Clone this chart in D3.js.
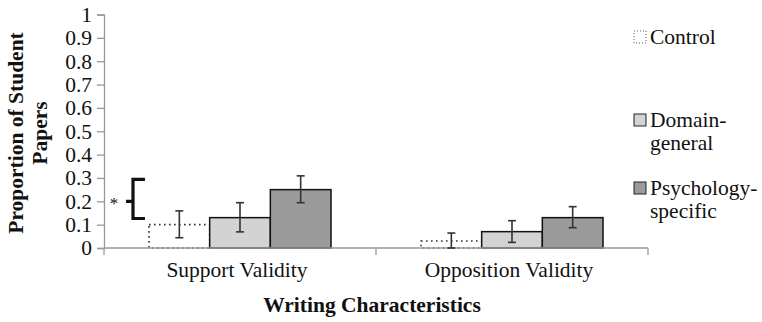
<!DOCTYPE html>
<html>
<head>
<meta charset="utf-8">
<script src="https://cdn.jsdelivr.net/npm/d3@7"></script>
<style>
  body { margin: 0; background: #fff; }
</style>
</head>
<body>
<svg id="chart" width="762" height="322"></svg>
<script>
const categories = ["Support Validity", "Opposition Validity"];
const groups = ["Control", "Domain-general", "Psychology-specific"];
const legendLines = [["Control"], ["Domain-", "general"], ["Psychology-", "specific"]];
const control = [0.10, 0.03];
const domainGeneral = [0.13, 0.07];
const psychSpecific = [0.25, 0.13];
const controlErr = [[0.044, 0.159], [0.0, 0.064]];
const domainErr = [[0.069, 0.194], [0.024, 0.117]];
const psychErr = [[0.194, 0.309], [0.087, 0.177]];
const yTicks = [0, 0.1, 0.2, 0.3, 0.4, 0.5, 0.6, 0.7, 0.8, 0.9, 1];

const FONT = "Liberation Serif";
const fills = ["#fff", "#d3d3d3", "#9b9b9b"];
const svg = d3.select("#chart");

const y = d3.scaleLinear().domain([0, 1]).range([248, 14.5]);
const x = d3.scaleBand().domain(categories).range([104, 648]).paddingInner(0).paddingOuter(0);
const xInner = d3.scaleBand().domain(groups).range([0, 182]);
const offset = (x.bandwidth() - 182) / 2;

const series = groups.map((g, i) => ({
  group: g,
  values: [control, domainGeneral, psychSpecific][i],
  errs: [controlErr, domainErr, psychErr][i],
  fill: fills[i]
}));

// y axis
const yAxis = svg.append("g").attr("transform", "translate(104,0)")
  .call(d3.axisLeft(y).tickValues(yTicks).tickSize(7).tickPadding(5)
    .tickFormat(d => d === 0 || d === 1 ? String(d) : d3.format(".1f")(d)));
yAxis.attr("font-family", FONT).attr("font-size", 21.5);
yAxis.select(".domain").attr("stroke", "#999").attr("stroke-width", 1.3);
yAxis.selectAll(".tick line").attr("stroke", "#999").attr("stroke-width", 1.3);
yAxis.selectAll(".tick text").attr("font-size", 21.5)
  .attr("font-family", FONT).attr("fill", "#111");

// bars
const bars = svg.append("g");
series.forEach((s, i) => {
  const g = bars.append("g");
  g.selectAll("rect").data(categories).join("rect")
    .attr("x", (c) => x(c) + offset + xInner(s.group))
    .attr("y", (c, j) => y(s.values[j]))
    .attr("width", xInner.bandwidth())
    .attr("height", (c, j) => y(0) - y(s.values[j]))
    .attr("fill", s.fill)
    .attr("stroke", i === 0 ? "#333" : "#111")
    .attr("stroke-width", i === 0 ? 1.6 : 1.5)
    .attr("stroke-dasharray", i === 0 ? "1.6,3.4" : null);
});

// x axis
const xAxisG = svg.append("g");
xAxisG.append("line").attr("x1", 104).attr("x2", 648).attr("y1", y(0)).attr("y2", y(0))
  .attr("stroke", "#999").attr("stroke-width", 1.5);
xAxisG.selectAll("line.tk").data([104, x(categories[1]), 648]).join("line")
  .attr("class", "tk")
  .attr("x1", d => d).attr("x2", d => d).attr("y1", y(0)).attr("y2", y(0) + 7)
  .attr("stroke", "#999").attr("stroke-width", 1.3);
xAxisG.selectAll("text").data(categories).join("text")
  .attr("x", d => x(d) + x.bandwidth() / 2 - 3)
  .attr("y", 277)
  .attr("text-anchor", "middle")
  .attr("font-size", 21.5)
  .attr("font-family", FONT).attr("fill", "#111")
  .text(d => d);

// error bars
series.forEach(s => {
  const g = svg.append("g").attr("stroke", "#333").attr("stroke-width", 1.6);
  categories.forEach((c, j) => {
    const cx = x(c) + offset + xInner(s.group) + xInner.bandwidth() / 2;
    const [lo, hi] = s.errs[j];
    g.append("line").attr("x1", cx).attr("x2", cx).attr("y1", y(lo)).attr("y2", y(hi));
    g.append("line").attr("x1", cx - 4).attr("x2", cx + 4).attr("y1", y(lo)).attr("y2", y(lo));
    g.append("line").attr("x1", cx - 4).attr("x2", cx + 4).attr("y1", y(hi)).attr("y2", y(hi));
  });
});

// significance bracket
svg.append("path")
  .attr("d", `M145,${y(0.3) + 1.5}H133V${y(0.12) - 1.5}H145M133,${y(0.2)}H126`)
  .attr("fill", "none").attr("stroke", "#111").attr("stroke-width", 3.2);
svg.append("text").attr("x", 114).attr("y", y(0.2) + 8)
  .attr("text-anchor", "middle").attr("font-size", 17)
  .attr("font-family", FONT).attr("fill", "#111").text("*");

// y title
const yt = svg.append("text")
  .attr("transform", "translate(23,133) rotate(-90)")
  .attr("text-anchor", "middle").attr("font-size", 21.5).attr("font-weight", "bold")
  .attr("font-family", FONT).attr("fill", "#111");
yt.append("tspan").attr("x", 0).attr("y", 0).text("Proportion of Student");
yt.append("tspan").attr("x", 0).attr("y", 24).text("Papers");

// x title
svg.append("text").attr("x", 372).attr("y", 312).attr("text-anchor", "middle")
  .attr("font-size", 21.5).attr("font-weight", "bold")
  .attr("font-family", FONT).attr("fill", "#111").text("Writing Characteristics");

// legend
const legendY = [37, 120, 188];
const leg = svg.append("g");
series.forEach((s, i) => {
  const g = leg.append("g").attr("transform", `translate(634,${legendY[i]})`);
  g.append("rect").attr("x", 0).attr("y", -6).attr("width", 12).attr("height", 12)
    .attr("fill", s.fill).attr("stroke", i === 0 ? "#555" : "#222")
    .attr("stroke-width", 1).attr("stroke-dasharray", i === 0 ? "1,2" : null);
  legendLines[i].forEach((t, k) => {
    g.append("text").attr("x", 16).attr("y", 7 + k * 23).attr("font-size", 21.5)
      .attr("font-family", FONT).attr("fill", "#111").text(t);
  });
});
</script>
</body>
</html>
